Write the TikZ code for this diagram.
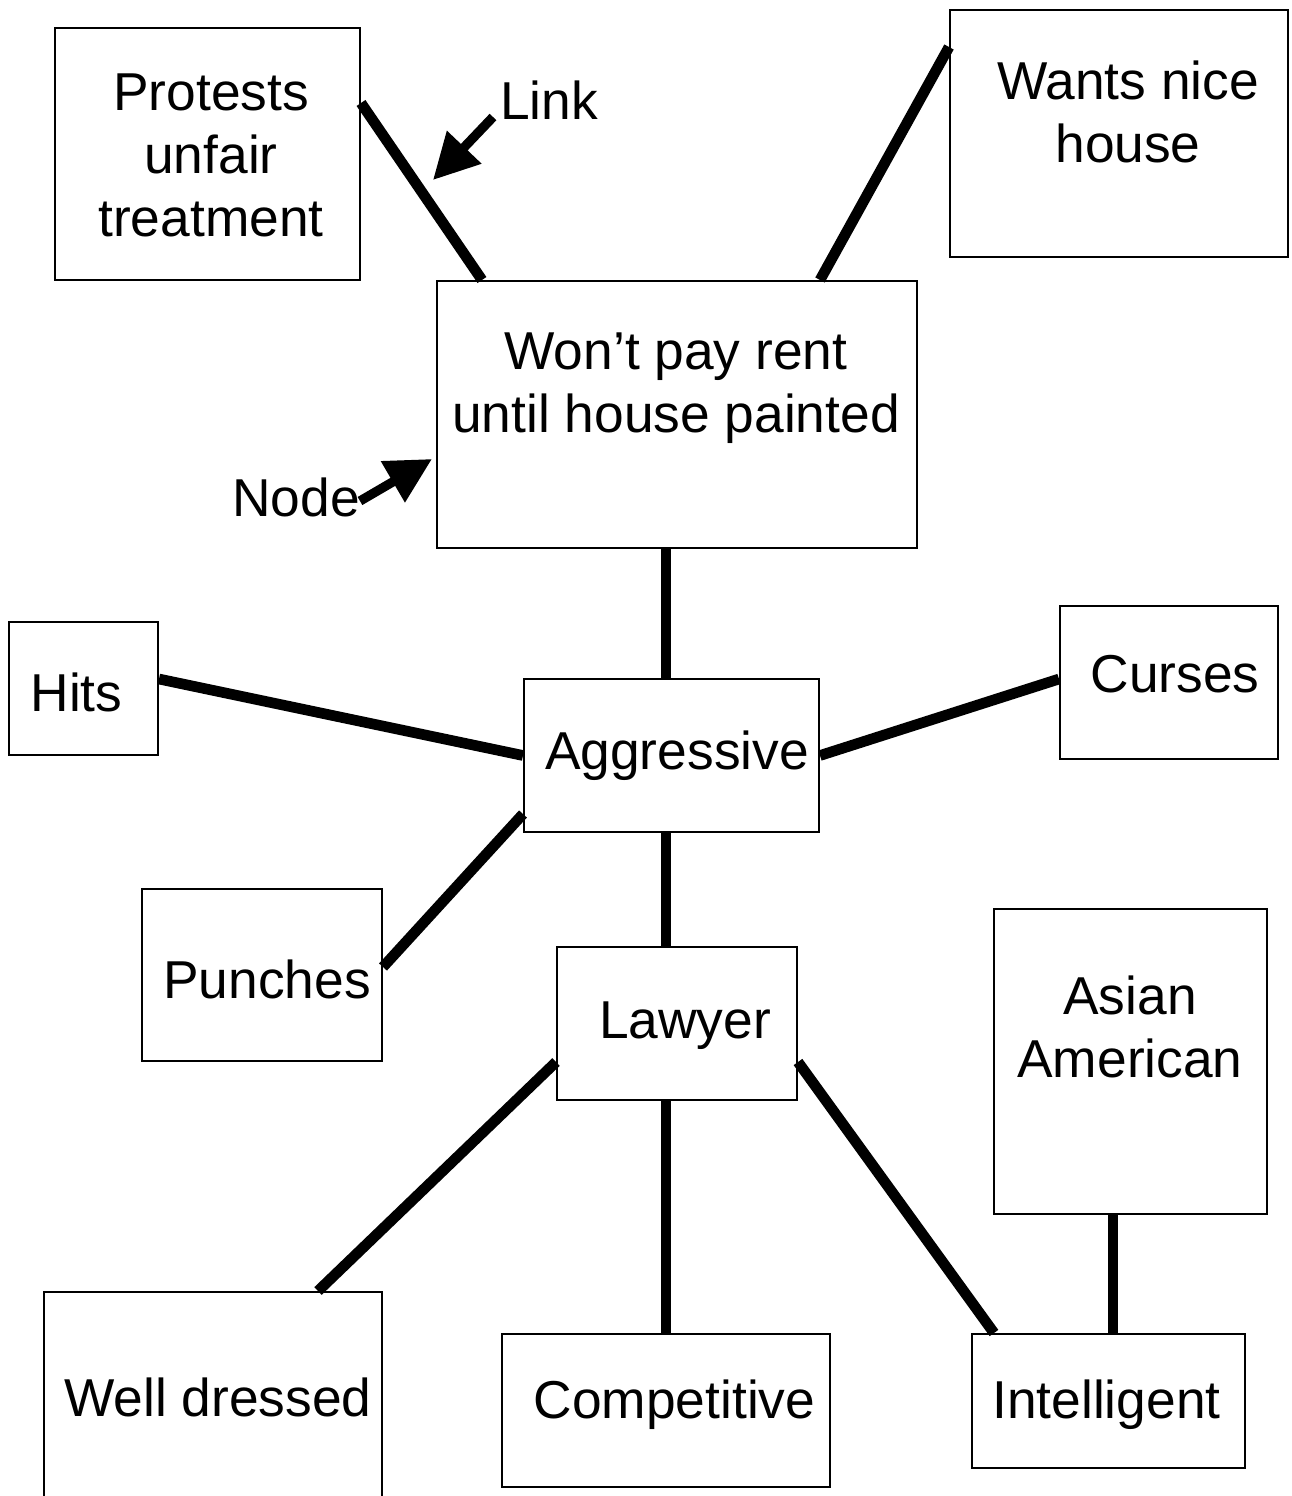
\documentclass[tikz,border=0pt]{standalone}
\usepackage{fontspec}
\setmainfont{Liberation Sans}
\usetikzlibrary{arrows.meta}
\begin{document}
\begin{tikzpicture}[x=0.75pt,y=0.75pt,yscale=-1,xscale=1,
        box/.style 2 args={draw, line width=1.5pt, inner sep=0pt, minimum width=#1*0.75pt, minimum height=#2*0.75pt},
        txt/.style={inner sep=0pt, align=center, font=\fontsize{40}{47.25}\selectfont},
        link/.style={line width=8pt},
        pointer/.style={line width=7pt, -{Triangle[length=34pt,width=34pt]}}]
        \useasboundingbox (0,0) rectangle (1292,1496);
        \node[box={305}{252}] (protests) at (207.5,154) {};
        \node[box={338}{247}] (wants) at (1119,133.5) {};
        \node[box={480}{267}] (wont) at (677,414.5) {};
        \node[box={149}{133}] (hits) at (83.5,688.5) {};
        \node[box={295}{153}] (aggr) at (671.5,755.5) {};
        \node[box={218}{153}] (curses) at (1169,682.5) {};
        \node[box={240}{172}] (punches) at (262,975) {};
        \node[box={240}{153}] (lawyer) at (677,1023.5) {};
        \node[box={273}{305}] (asian) at (1130.5,1061.5) {};
        \node[box={338}{230}] (well) at (213,1407) {};
        \node[box={328}{153}] (comp) at (666,1410.5) {};
        \node[box={273}{134}] (intel) at (1108.5,1401) {};
        \node[txt] (protests-txt) at (211,155) {Protests\\unfair\\treatment};
        \node[txt] (wants-txt) at (1128,111.5) {Wants nice\\house};
        \node[txt] (wont-txt) at (676,388.5) {Won’t pay rent\\until house painted};
        \node[txt, anchor=base] (hits-txt) at (76.5,711) {Hits};
        \node[txt, anchor=base] (aggr-txt) at (677,769) {Aggressive};
        \node[txt, anchor=base] (curses-txt) at (1175,692) {Curses};
        \node[txt, anchor=base] (punches-txt) at (267,998) {Punches};
        \node[txt, anchor=base] (lawyer-txt) at (685,1038) {Lawyer};
        \node[txt] (asian-txt) at (1130,1026.5) {Asian\\American};
        \node[txt, anchor=base] (well-txt) at (218,1416) {Well dressed};
        \node[txt, anchor=base] (comp-txt) at (674.5,1418) {Competitive};
        \node[txt, anchor=base] (intel-txt) at (1106.5,1418) {Intelligent};
        \node[txt, anchor=base] (link-lbl) at (549,119) {Link};
        \node[txt, anchor=base] (node-lbl) at (296,516) {Node};
        \draw[link] (protests.east |- 0,103) -- (wont.north -| 482,0);
        \draw[link] (wants.west |- 0,47) -- (wont.north -| 820,0);
        \draw[link] (wont.south -| 666,0) -- (aggr.north -| 666,0);
        \draw[link] (hits.east |- 0,679) -- (aggr.west);
        \draw[link] (aggr.east) -- (curses.west |- 0,679);
        \draw[link] (aggr.west |- 0,814) -- (punches.east |- 0,967);
        \draw[link] (aggr.south -| 666,0) -- (lawyer.north -| 666,0);
        \draw[link] (lawyer.west |- 0,1062) -- (well.north -| 318,0);
        \draw[link] (lawyer.south -| 666,0) -- (comp.north -| 666,0);
        \draw[link] (lawyer.east |- 0,1062) -- (intel.north -| 994,0);
        \draw[link] (asian.south -| 1113,0) -- (intel.north -| 1113,0);
        \coordinate (link-tail) at (493,117);
        \coordinate (link-tip) at (433,180);
        \coordinate (node-tail) at (360,501);
        \coordinate (node-tip) at (432,459);
        \draw[pointer] (link-tail) -- (link-tip);
        \draw[pointer] (node-tail) -- (node-tip);
        \end{tikzpicture}
\end{document}
